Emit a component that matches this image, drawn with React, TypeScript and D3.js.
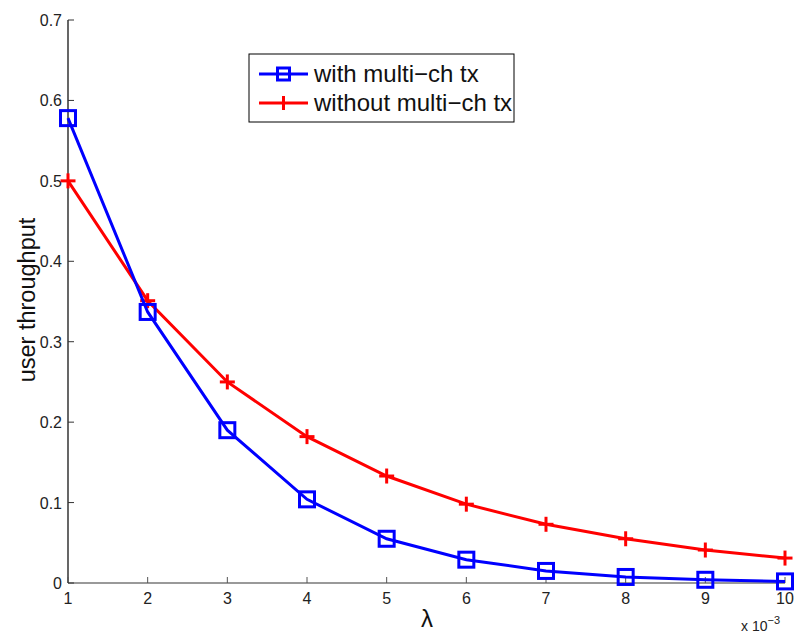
import React from "react";
import * as d3 from "d3";

const xValues = [1, 2, 3, 4, 5, 6, 7, 8, 9, 10];
const withMulti = [0.578, 0.337, 0.19, 0.104, 0.055, 0.029, 0.015, 0.0075, 0.004, 0.002];
const withoutMulti = [0.5, 0.351, 0.25, 0.182, 0.133, 0.098, 0.073, 0.055, 0.041, 0.031];
const yTicks = [0, 0.1, 0.2, 0.3, 0.4, 0.5, 0.6, 0.7];
const seriesNames = ["with multi\u2212ch tx", "without multi\u2212ch tx"];

const W = 795, H = 635;
const left = 68, right = 785, top = 20, bottom = 583;
const font = "'Liberation Sans', Arial, Helvetica, sans-serif";

export default function App() {
  const x = d3.scaleLinear().domain([1, 10]).range([left, right]);
  const y = d3.scaleLinear().domain([0, 0.7]).range([bottom, top]);
  const line = d3.line<number>().x((_, i) => x(xValues[i])).y((d) => y(d));
  const sq = 7.5;
  const pl = 7.5;
  return (
    <svg width={W} height={H} style={{ position: "absolute", left: 0, top: 0, background: "#fff" }}>
      <rect width={W} height={H} fill="#fff" />
      <line x1={left} x2={right} y1={bottom} y2={bottom} stroke="#777" strokeWidth={1.5} />
      <line x1={left} x2={left} y1={top} y2={bottom} stroke="#000" strokeWidth={1.2} />
      {xValues.map((v) => (
        <g key={"xt" + v}>
          <line x1={x(v)} x2={x(v)} y1={bottom} y2={bottom - 6} stroke="#555" strokeWidth={1} />
          <text x={x(v)} y={bottom + 21} textAnchor="middle" fontFamily={font} fontSize={16} fill="#222">{v}</text>
        </g>
      ))}
      {yTicks.map((v) => (
        <g key={"yt" + v}>
          <line x1={left} x2={left + 6} y1={y(v)} y2={y(v)} stroke="#333" strokeWidth={1} />
          <text x={left - 6} y={y(v) + 6} textAnchor="end" fontFamily={font} fontSize={16} fill="#222">{v}</text>
        </g>
      ))}
      <text x={741} y={631} fontFamily={font} fontSize={14} fill="#222">x 10<tspan dy={-7} fontSize={11}>−3</tspan></text>
      <text x={427} y={627} textAnchor="middle" fontFamily={font} fontSize={24} fill="#111">λ</text>
      <text transform={`translate(35,300) rotate(-90)`} textAnchor="middle" fontFamily={font} fontSize={23.5} fill="#111">user throughput</text>

      <path d={line(withoutMulti) || ""} fill="none" stroke="#ff0000" strokeWidth={3} />
      {withoutMulti.map((v, i) => (
        <g key={"r" + i} stroke="#ff0000" strokeWidth={3}>
          <line x1={x(xValues[i]) - pl} x2={x(xValues[i]) + pl} y1={y(v)} y2={y(v)} />
          <line x1={x(xValues[i])} x2={x(xValues[i])} y1={y(v) - pl} y2={y(v) + pl} />
        </g>
      ))}
      <path d={line(withMulti) || ""} fill="none" stroke="#0000ff" strokeWidth={3} />
      {withMulti.map((v, i) => (
        <rect key={"b" + i} x={x(xValues[i]) - sq} y={y(v) - sq} width={sq * 2} height={sq * 2} fill="none" stroke="#0000ff" strokeWidth={3} />
      ))}

      <rect x={249} y={54} width={265} height={68} fill="#fff" stroke="#000" strokeWidth={1} />
      <line x1={259} x2={308} y1={74} y2={74} stroke="#0000ff" strokeWidth={3} />
      <rect x={283.5 - 6} y={74 - 6} width={12} height={12} fill="none" stroke="#0000ff" strokeWidth={3} />
      <text x={314} y={82} fontFamily={font} fontSize={24} fill="#111">{seriesNames[0]}</text>
      <line x1={259} x2={308} y1={103} y2={103} stroke="#ff0000" strokeWidth={3} />
      <line x1={283.5} x2={283.5} y1={96} y2={110} stroke="#ff0000" strokeWidth={3} />
      <text x={314} y={111} fontFamily={font} fontSize={24} fill="#111">{seriesNames[1]}</text>
    </svg>
  );
}
